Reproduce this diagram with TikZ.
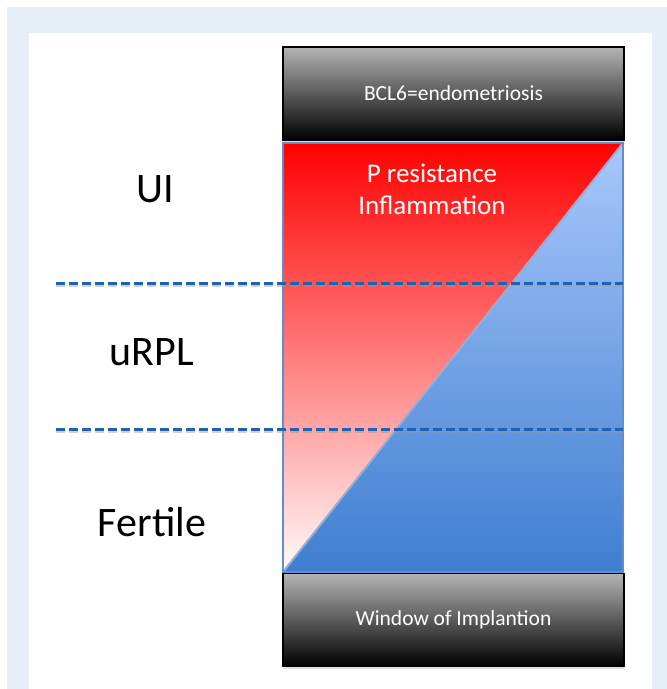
\documentclass[tikz,border=0pt]{standalone}
\usepackage{fontspec}
\setmainfont{Carlito}
\usetikzlibrary{shadows}
\definecolor{framebg}{HTML}{E6EEF8}
\definecolor{blueL}{HTML}{A8C8FB}
\definecolor{blueD}{HTML}{3F7ED0}
\definecolor{edgecol}{HTML}{5F8FC8}
\definecolor{diagcol}{HTML}{8EB0DA}
\definecolor{dashcol}{HTML}{1F62B4}
\definecolor{boxtop}{HTML}{B4B4B4}
\tikzset{
  graybox/.style={draw=black, line width=1.5pt, top color=boxtop, bottom color=black,
    minimum width=341pt, minimum height=93pt, text=white, inner sep=0pt,
    font=\fontsize{21.5}{24}\selectfont,
    drop shadow={opacity=0.25, shadow xshift=0pt, shadow yshift=-2pt}},
  sidelabel/.style={font=\fontsize{42}{48}\selectfont, text=black, inner sep=0pt},
  redtext/.style={font=\fontsize{27}{32}\selectfont, text=white, align=center, inner sep=0pt},
  dashline/.style={draw=dashcol, line width=3pt, dash pattern=on 9pt off 4pt},
  dashshadow/.style={draw=black!40, opacity=0.45, line width=3pt, dash pattern=on 9pt off 4pt},
  edge/.style={draw=edgecol, line width=1.3pt},
  diag/.style={draw=diagcol, line width=2pt}
}
\begin{document}
\begin{tikzpicture}[x=1pt,y=-1pt]
\useasboundingbox (0,0) rectangle (667,689);
\fill[white] (0,0) rectangle (667,689);
\fill[framebg] (7,7) rectangle (667,689);
\fill[white] (29,33) rectangle (652,689);

% triangles
\coordinate (tl) at (283,143);
\coordinate (tr) at (623,143);
\coordinate (bl) at (283,572);
\coordinate (br) at (623,572);
\shade[top color=red, bottom color=red!2] (tl) -- (tr) -- (bl) -- cycle;
\shade[top color=blueL, bottom color=blueD] (tr) -- (br) -- (bl) -- cycle;
\draw[diag] (bl) -- (tr);
\draw[edge] (tl) rectangle (br);

% dashed lines
\coordinate (d1l) at (56,283);
\coordinate (d1r) at (623,283);
\coordinate (d2l) at (56,429);
\coordinate (d2r) at (623,429);
\draw[dashshadow] ([yshift=-2pt]d1l) -- ([yshift=-2pt]d1r);
\draw[dashshadow] ([yshift=-2pt]d2l) -- ([yshift=-2pt]d2r);
\draw[dashline] (d1l) -- (d1r);
\draw[dashline] (d2l) -- (d2r);

% boxes
\node[graybox] (bcl) at (453.5,93.5) {BCL6=endometriosis};
\node[graybox] (woi) at (453.5,620) {Window of Implantion};

% red text
\node[redtext] (pres) at (432,189) {P resistance\\Inflammation};

% side labels
\node[sidelabel] (ui) at (155,189) {UI};
\node[sidelabel] (urpl) at (152,352) {uRPL};
\node[sidelabel] (fert) at (152,522) {Fertile};
\end{tikzpicture}
\end{document}
